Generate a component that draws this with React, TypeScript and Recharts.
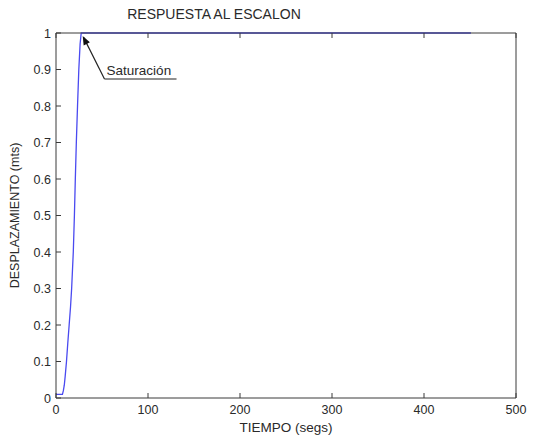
import { LineChart, Line, XAxis, YAxis, ReferenceLine, ReferenceDot } from 'recharts'

const tiempo = [0, 7, 8, 9, 10, 11.4, 12.8, 14.3, 15.8, 17, 18.8, 20, 21, 22.1, 23.4, 24.8, 26.2, 27.4, 100, 200, 300, 400, 451]
const desplazamiento = [0.01, 0.01, 0.02, 0.035, 0.06, 0.1, 0.15, 0.2, 0.25, 0.3, 0.4, 0.5, 0.6, 0.7, 0.8, 0.9, 0.97, 1, 1, 1, 1, 1, 1]

const xTicks = [0, 100, 200, 300, 400, 500]
const yTicks = [0, 0.1, 0.2, 0.3, 0.4, 0.5, 0.6, 0.7, 0.8, 0.9, 1]

const data = tiempo.map((t, i) => ({ t, y: desplazamiento[i] }))

const FONT = '"Liberation Sans", Arial, sans-serif'
const AXIS = '#3a3a3a'
const TXT = '#2a2a2a'

// matlab style ticks: short inward lines, labels outside
const BottomTick = (props: any) => {
  const { x, y, payload } = props
  return (
    <g>
      <line x1={x} y1={y} x2={x} y2={y - 5} stroke={AXIS} />
      <text x={x} y={y + 16} textAnchor="middle" fontSize={12.5} fill={TXT} fontFamily={FONT}>
        {payload.value}
      </text>
    </g>
  )
}

const TopTick = (props: any) => {
  const { x, y } = props
  return <line x1={x} y1={y} x2={x} y2={y + 5} stroke={AXIS} />
}

const LeftTick = (props: any) => {
  const { x, y, payload } = props
  return (
    <g>
      <line x1={x} y1={y} x2={x + 5} y2={y} stroke={AXIS} />
      <text x={x - 5} y={y + 4.5} textAnchor="end" fontSize={12.5} fill={TXT} fontFamily={FONT}>
        {payload.value}
      </text>
    </g>
  )
}

const RightTick = (props: any) => {
  const { x, y } = props
  return <line x1={x} y1={y} x2={x - 5} y2={y} stroke={AXIS} />
}

const ArrowHead = (props: any) => {
  const { cx, cy } = props
  return (
    <polygon
      points={`${cx},${cy} ${cx + 7.2},${cy + 6.4} ${cx + 1},${cy + 9.6}`}
      fill="#111"
    />
  )
}

const SatLabel = (props: any) => {
  const { viewBox } = props
  return (
    <text x={viewBox.x} y={viewBox.y} fontSize={13.5} fill={TXT} fontFamily={FONT}>
      Saturación
    </text>
  )
}

export default function App() {
  return (
    <div style={{ position: 'absolute', left: 0, top: 0, width: 534, height: 437, background: '#fff' }}>
      <div
        style={{
          position: 'absolute',
          left: 0,
          width: 428,
          top: 6,
          textAlign: 'center',
          fontFamily: FONT,
          fontSize: 14,
          color: TXT,
        }}
      >
        RESPUESTA AL ESCALON
      </div>
      <LineChart
        width={534}
        height={437}
        data={data}
        margin={{ top: 32, right: 17, bottom: 19, left: 20 }}
      >
        <XAxis
          xAxisId="b"
          dataKey="t"
          type="number"
          domain={[0, 500]}
          ticks={xTicks}
          height={20}
          stroke={AXIS}
          tickLine={false}
          tickSize={0}
          tickMargin={0}
          tick={<BottomTick />}
          label={{ value: 'TIEMPO (segs)', position: 'insideBottom', offset: -14, fontSize: 13.5, fill: TXT, fontFamily: FONT }}
        />
        <XAxis
          xAxisId="t"
          orientation="top"
          dataKey="t"
          type="number"
          domain={[0, 500]}
          ticks={xTicks}
          height={1}
          stroke={AXIS}
          tickLine={false}
          tickSize={0}
          tickMargin={0}
          tick={<TopTick />}
        />
        <YAxis
          yAxisId="l"
          type="number"
          domain={[0, 1]}
          ticks={yTicks}
          width={36}
          stroke={AXIS}
          tickLine={false}
          tickSize={0}
          tickMargin={0}
          tick={<LeftTick />}
          label={{ value: 'DESPLAZAMIENTO (mts)', angle: -90, position: 'insideLeft', offset: -5, fontSize: 12.5, fill: TXT, fontFamily: FONT, style: { textAnchor: 'middle' } }}
        />
        <YAxis
          yAxisId="r"
          orientation="right"
          type="number"
          domain={[0, 1]}
          ticks={yTicks}
          width={1}
          stroke={AXIS}
          tickLine={false}
          tickSize={0}
          tickMargin={0}
          tick={<RightTick />}
        />
        <Line
          xAxisId="b"
          yAxisId="l"
          type="linear"
          dataKey="y"
          stroke="#4a4af0"
          strokeWidth={1.3}
          dot={false}
          isAnimationActive={false}
        />
        <ReferenceLine
          xAxisId="b"
          yAxisId="l"
          segment={[{ x: 52.7, y: 0.874 }, { x: 30, y: 0.988 }]}
          stroke="#222"
          strokeWidth={1.2}
        />
        <ReferenceLine
          xAxisId="b"
          yAxisId="l"
          segment={[{ x: 52.7, y: 0.874 }, { x: 131, y: 0.874 }]}
          stroke="#222"
          strokeWidth={1.2}
        />
        <ReferenceDot
          xAxisId="b"
          yAxisId="l"
          x={29}
          y={0.992}
          r={0}
          shape={<ArrowHead />}
        />
        <ReferenceDot
          xAxisId="b"
          yAxisId="l"
          x={55}
          y={0.885}
          r={0}
          fill="none"
          stroke="none"
          label={<SatLabel />}
        />
      </LineChart>
    </div>
  )
}
